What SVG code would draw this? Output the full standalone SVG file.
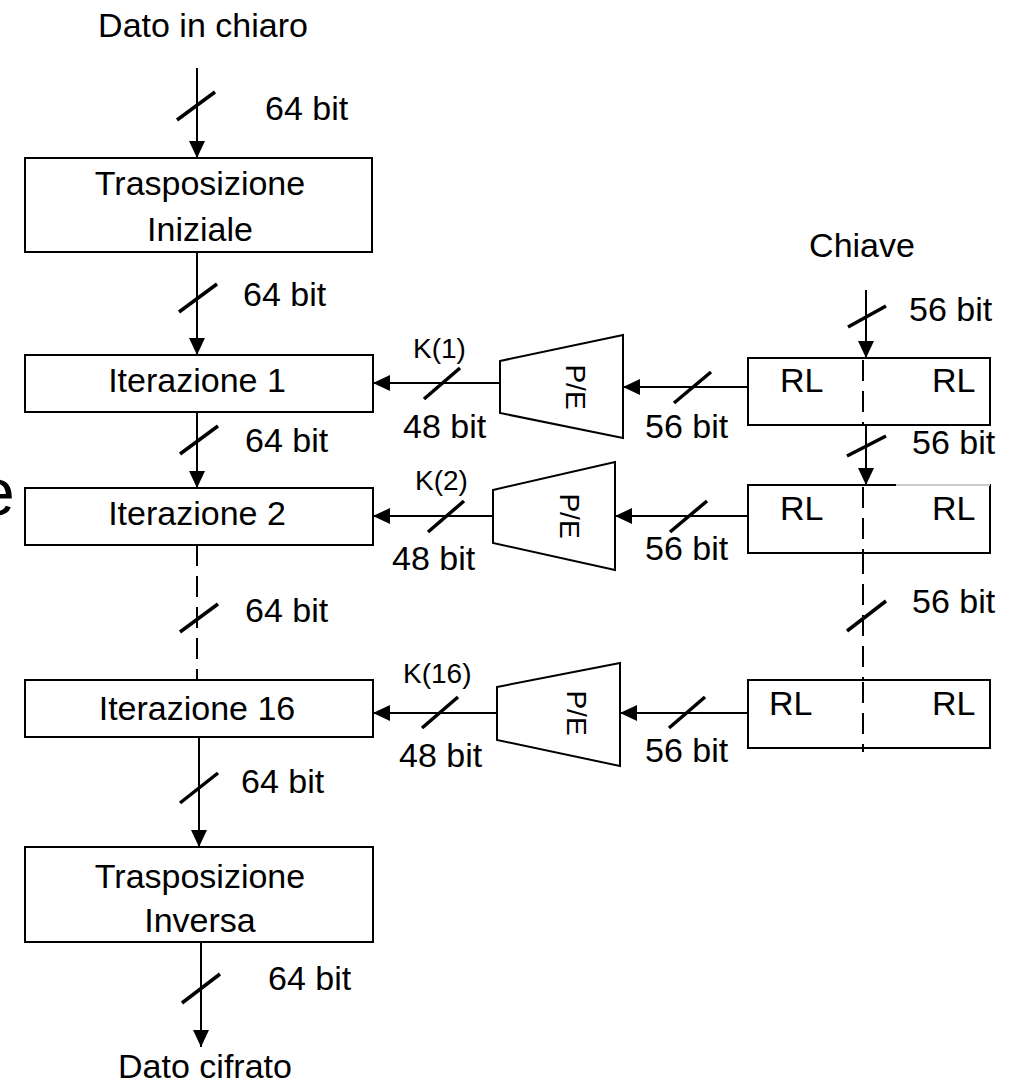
<svg xmlns="http://www.w3.org/2000/svg" width="1015" height="1086" viewBox="0 0 1015 1086">
<style>
text{font-family:"Liberation Sans",Arial,sans-serif;fill:#000}
.lab{font-size:34px}
.sm{font-size:28px}
.mid{text-anchor:middle}
.box{fill:#fff;stroke:#000;stroke-width:2}
.ln{stroke:#000;stroke-width:2;fill:none}
.dash{stroke:#000;stroke-width:2;fill:none;stroke-dasharray:21 10}
.sl{stroke:#000;stroke-width:3.5;fill:none}
</style>
<defs>
<marker id="ah" markerUnits="userSpaceOnUse" markerWidth="18" markerHeight="18" refX="17" refY="9" orient="auto">
<path d="M0,1 L17,9 L0,17 z" fill="#000"/>
</marker>
</defs>
<rect width="1015" height="1086" fill="#fff"/>
<text x="-22" y="515" style="font-size:66px" fill="#111">e</text>

<g id="connectors">
<line class="ln" x1="197" y1="68" x2="197" y2="158" marker-end="url(#ah)"/>
<line class="sl" x1="177" y1="120" x2="215" y2="92"/>
<line class="ln" x1="197" y1="252" x2="197" y2="355" marker-end="url(#ah)"/>
<line class="sl" x1="179" y1="312" x2="217" y2="284"/>
<line class="ln" x1="197" y1="412" x2="197" y2="488" marker-end="url(#ah)"/>
<line class="sl" x1="180" y1="454" x2="218" y2="426"/>
<line class="dash" x1="197" y1="545" x2="197" y2="680"/>
<line class="sl" x1="180" y1="632" x2="218" y2="604"/>
<line class="ln" x1="199" y1="737" x2="199" y2="847" marker-end="url(#ah)"/>
<line class="sl" x1="180" y1="803" x2="218" y2="773"/>
<line class="ln" x1="201" y1="942" x2="201" y2="1047" marker-end="url(#ah)"/>
<line class="sl" x1="182" y1="1003" x2="220" y2="974"/>

<line class="ln" x1="866" y1="290" x2="866" y2="358" marker-end="url(#ah)"/>
<line class="sl" x1="848" y1="327" x2="886" y2="306"/>
<line class="ln" x1="866" y1="425" x2="866" y2="485" marker-end="url(#ah)"/>
<line class="sl" x1="847" y1="456" x2="886" y2="436"/>
<line class="dash" x1="863" y1="553" x2="863" y2="680"/>
<line class="sl" x1="847" y1="631" x2="886" y2="601"/>

<line class="ln" x1="748" y1="387" x2="623" y2="387" marker-end="url(#ah)"/>
<line class="sl" x1="674" y1="403" x2="711" y2="372"/>
<line class="ln" x1="500" y1="383" x2="373" y2="383" marker-end="url(#ah)"/>
<line class="sl" x1="424" y1="399" x2="460" y2="368"/>

<line class="ln" x1="748" y1="516" x2="615" y2="516" marker-end="url(#ah)"/>
<line class="sl" x1="670" y1="532" x2="707" y2="501"/>
<line class="ln" x1="493" y1="516" x2="373" y2="516" marker-end="url(#ah)"/>
<line class="sl" x1="428" y1="532" x2="464" y2="501"/>

<line class="ln" x1="748" y1="713" x2="620" y2="713" marker-end="url(#ah)"/>
<line class="sl" x1="669" y1="728" x2="705" y2="697"/>
<line class="ln" x1="497" y1="713" x2="373" y2="713" marker-end="url(#ah)"/>
<line class="sl" x1="422" y1="728" x2="458" y2="697"/>
</g>

<g id="labels">
<text class="lab mid" x="203" y="37">Dato in chiaro</text>
<text class="lab" x="265" y="120">64 bit</text>
<text class="lab" x="243" y="306">64 bit</text>
<text class="lab" x="245" y="452">64 bit</text>
<text class="lab" x="245" y="622">64 bit</text>
<text class="lab" x="241" y="793">64 bit</text>
<text class="lab" x="268" y="990">64 bit</text>
<text class="lab mid" x="205" y="1078">Dato cifrato</text>
<text class="lab mid" x="862" y="257">Chiave</text>
<text class="lab" x="909" y="321">56 bit</text>
<text class="lab" x="912" y="454">56 bit</text>
<text class="lab" x="912" y="613">56 bit</text>
<text class="sm" x="413" y="358">K(1)</text>
<text class="lab" x="403" y="438">48 bit</text>
<text class="lab" x="645" y="438">56 bit</text>
<text class="sm" x="415" y="490">K(2)</text>
<text class="lab" x="392" y="570">48 bit</text>
<text class="lab" x="645" y="560">56 bit</text>
<text class="sm" x="403" y="683">K(16)</text>
<text class="lab" x="399" y="767">48 bit</text>
<text class="lab" x="645" y="762">56 bit</text>
</g>

<g id="trasposizione-iniziale">
<rect class="box" x="25" y="158" width="347" height="94"/>
<text class="lab mid" x="200" y="195">Trasposizione</text>
<text class="lab mid" x="200" y="241">Iniziale</text>
</g>
<g id="iterazione-1">
<rect class="box" x="25" y="355" width="348" height="57"/>
<text class="lab mid" x="197" y="392">Iterazione 1</text>
</g>
<g id="iterazione-2">
<rect class="box" x="25" y="488" width="348" height="57"/>
<text class="lab mid" x="197" y="525">Iterazione 2</text>
</g>
<g id="iterazione-16">
<rect class="box" x="25" y="680" width="348" height="57"/>
<text class="lab mid" x="197" y="720">Iterazione 16</text>
</g>
<g id="trasposizione-inversa">
<rect class="box" x="25" y="847" width="348" height="95"/>
<text class="lab mid" x="200" y="888">Trasposizione</text>
<text class="lab mid" x="200" y="932">Inversa</text>
</g>

<g id="pe-1">
<polygon class="box" points="500,361 623,335 623,438 500,413"/>
<text class="sm mid" transform="translate(566,387) rotate(90)">P/E</text>
</g>
<g id="pe-2">
<polygon class="box" points="493,490 615,462 615,570 493,543"/>
<text class="sm mid" transform="translate(560,516) rotate(90)">P/E</text>
</g>
<g id="pe-16">
<polygon class="box" points="497,687 620,663 620,766 497,740"/>
<text class="sm mid" transform="translate(567,713) rotate(90)">P/E</text>
</g>

<g id="rl-1">
<rect class="box" x="748" y="358" width="242" height="67"/>
<line class="dash" x1="863" y1="360" x2="863" y2="425"/>
<text class="lab" x="780" y="392">RL</text>
<text class="lab" x="932" y="392">RL</text>
</g>
<g id="rl-2">
<rect class="box" x="748" y="485" width="242" height="68"/>
<line x1="896" y1="485" x2="990" y2="485" stroke="#fff" stroke-width="2"/>
<line x1="896" y1="485" x2="990" y2="485" stroke="#999" stroke-width="1"/>
<line class="dash" x1="863" y1="487" x2="863" y2="553"/>
<text class="lab" x="780" y="520">RL</text>
<text class="lab" x="932" y="520">RL</text>
</g>
<g id="rl-16">
<rect class="box" x="748" y="680" width="242" height="68"/>
<line class="dash" x1="863" y1="682" x2="863" y2="752"/>
<text class="lab" x="769" y="715">RL</text>
<text class="lab" x="932" y="715">RL</text>
</g>
</svg>
